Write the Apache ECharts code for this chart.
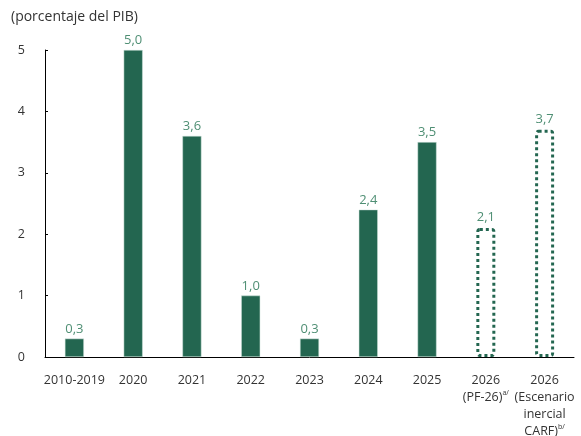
<!DOCTYPE html>
<html style="height: 100%">
<head>
    <meta charset="utf-8">
    <title>porcentaje del PIB</title>
    <script src="https://cdn.jsdelivr.net/npm/echarts@6/dist/echarts.min.js"></script>
</head>
<body style="height: 100%; margin: 0">
<div id="container" style="width: 581px; height: 436px"></div>
<script type="text/javascript">
    var categories = ['2010-2019', '2020', '2021', '2022', '2023', '2024', '2025',
        '2026\n(PF-26){sup|a/}', '2026\n(Escenario\ninercial\nCARF){sup|b/}'];
    // barras sólidas (observado) y barras punteadas (proyección)
    var observed = [0.3, 5.0, 3.6, 1.0, 0.3, 2.4, 3.5, null, null];
    var projected = [null, null, null, null, null, null, null, 2.1, 3.7];
    var yTicks = [0, 1, 2, 3, 4, 5];

    var dark = '#236650';
    var labelColor = '#4f8f74';

    var fmt = function (p) {
        return p.value == null ? '' : p.value.toFixed(1).replace('.', ',');
    };

    var myChart = echarts.init(document.getElementById('container'));
    var option = {
        backgroundColor: '#fff',
        animation: false,
        textStyle: { fontFamily: 'Open Sans' },
        title: {
            text: '(porcentaje del PIB)',
            left: 6,
            top: 5,
            textStyle: { fontSize: 14, fontWeight: 'normal', color: '#333' }
        },
        grid: { left: 45, right: 7, top: 50, bottom: 79, outerBoundsMode: 'none', containLabel: false },
        xAxis: {
            type: 'category',
            data: categories,
            axisLine: { lineStyle: { color: '#000', width: 1 } },
            axisTick: { inside: true, length: 3, lineStyle: { color: '#000' } },
            axisLabel: {
                interval: 0,
                color: '#333',
                fontSize: 12.5,
                lineHeight: 17,
                margin: 15,
                rich: {
                    sup: { fontSize: 7, verticalAlign: 'top', color: '#333', padding: [0, 0, 4, 0] }
                }
            }
        },
        yAxis: {
            type: 'value',
            min: yTicks[0],
            max: yTicks[yTicks.length - 1],
            interval: 1,
            splitLine: { show: false },
            axisLine: { show: true, lineStyle: { color: '#000', width: 1 } },
            axisTick: { show: true, inside: true, length: 3, lineStyle: { color: '#000' } },
            axisLabel: { color: '#333', fontSize: 12.5, margin: 20 }
        },
        series: [{
            type: 'bar',
            data: observed,
            barWidth: 19,
            barGap: '-100%',
            itemStyle: { color: dark, borderColor: '#cfe3da', borderWidth: 0.5 },
            label: {
                show: true, position: 'top', distance: 3,
                color: labelColor, fontSize: 13, formatter: fmt
            }
        }, {
            type: 'bar',
            data: projected,
            barWidth: 19,
            itemStyle: {
                color: '#fff',
                borderColor: dark,
                borderWidth: 3,
                borderType: [3, 3],
                borderRadius: 2
            },
            label: {
                show: true, position: 'top', distance: 4,
                color: labelColor, fontSize: 13, formatter: fmt
            }
        }]
    };
    myChart.setOption(option);
</script>
</body>
</html>
